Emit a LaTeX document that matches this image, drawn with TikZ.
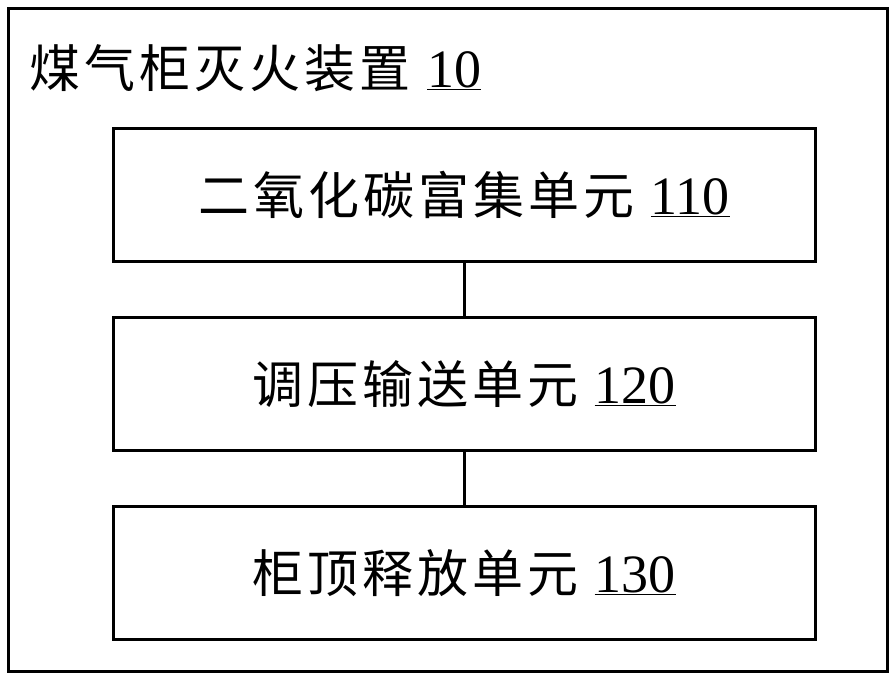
\documentclass[tikz,border=0pt]{standalone}
\usepackage{fontspec}
\setmainfont{Liberation Serif}
\newfontfamily\cjk[LetterSpace=8]{Noto Sans CJK SC}
\newcommand{\numlbl}[1]{\hspace{16pt}{\rmfamily\fontsize{54}{58}\selectfont\underline{#1}}}
\begin{document}
\begin{tikzpicture}[x=1pt,y=-1pt,
  unitbox/.style={draw,line width=3pt,minimum width=702pt,minimum height=133pt,inner sep=0pt},
  txt/.style={font=\fontsize{51}{54}\selectfont}]
\useasboundingbox (0,0) rectangle (896,682);
\node[draw,line width=3pt,minimum width=879pt,minimum height=663pt,inner sep=0pt] (outer) at (448,340) {};
\node[txt,anchor=west] (title) at (26,68) {{\cjk 煤气柜灭火装置}\numlbl{10}};
\node[unitbox] (u1) at (464,195) {};
\node[unitbox] (u2) at (464,384) {};
\node[unitbox] (u3) at (464,573) {};
\node[txt] (t1) at (u1) {{\cjk 二氧化碳富集单元}\numlbl{110}};
\node[txt] (t2) at (u2) {{\cjk 调压输送单元}\numlbl{120}};
\node[txt] (t3) at (u3) {{\cjk 柜顶释放单元}\numlbl{130}};
\draw[line width=3pt] (u1.south) -- (u2.north);
\draw[line width=3pt] (u2.south) -- (u3.north);
\end{tikzpicture}
\end{document}
